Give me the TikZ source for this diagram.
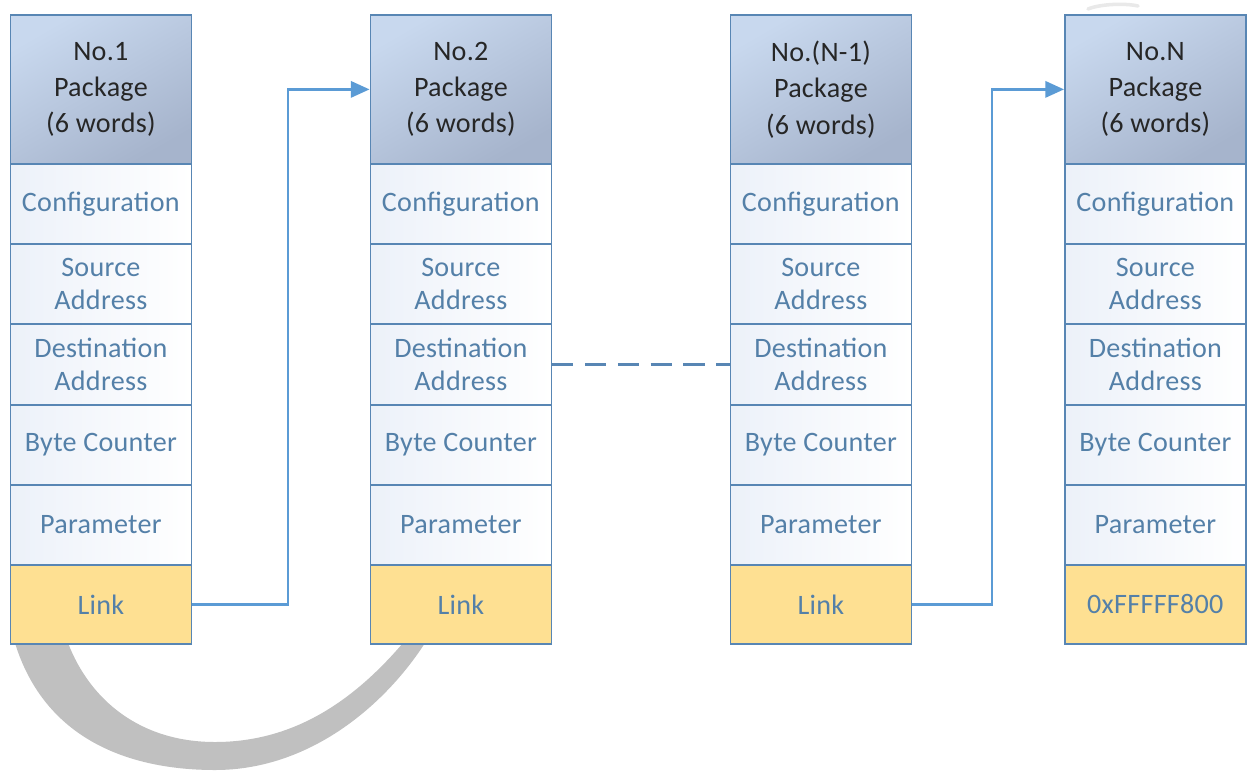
\documentclass[tikz,border=0pt]{standalone}
\usepackage{fontspec}
\setmainfont[LetterSpace=1]{Carlito}
\usetikzlibrary{arrows.meta}
\definecolor{bordc}{RGB}{88,134,180}
\definecolor{celltxt}{RGB}{84,128,168}
\definecolor{hdrtxt}{RGB}{38,38,38}
\definecolor{hdrA}{RGB}{200,216,238}
\definecolor{hdrB}{RGB}{166,180,204}
\definecolor{linkc}{RGB}{254,224,146}
\definecolor{arrc}{RGB}{91,155,213}
\definecolor{cellA}{RGB}{236,241,249}
\definecolor{arcgray}{RGB}{192,192,192}
\newcommand{\pkgcolumn}[4]{%
  \node[hdrbox] (#1h) at (#2,14) {#3};
  \node[cellbox, minimum height=2.4cm] (#1c) at (#2,163) {Configuration};
  \node[cellbox, minimum height=2.4cm] (#1s) at (#2,243) {Source\\Address};
  \node[cellbox, minimum height=2.43cm] (#1d) at (#2,323) {Destination\\Address};
  \node[cellbox, minimum height=2.4cm] (#1b) at (#2,404) {Byte Counter};
  \node[cellbox, minimum height=2.4cm] (#1p) at (#2,484) {Parameter};
  \node[linkbox] (#1l) at (#2,564) {#4};
}
\begin{document}
\begin{tikzpicture}[x=0.03cm,y=-0.03cm,
  basebox/.style={draw=bordc, line width=1.5pt, inner sep=0pt,
    minimum width=5.43cm, anchor=north west, align=center, text=celltxt,
    font=\fontsize{24}{28}\selectfont},
  cellbox/.style={basebox, left color=cellA, right color=white},
  hdrbox/.style={basebox, minimum height=4.47cm, text=hdrtxt,
    top color=hdrA, bottom color=hdrB, shading angle=30,
    font=\fontsize{24}{31}\selectfont},
  linkbox/.style={basebox, minimum height=2.37cm, fill=linkc},
  arrline/.style={draw=arrc, line width=2pt,
    -{Triangle[length=16pt,width=14pt]}},
  dashline/.style={draw=bordc, line width=2pt, dash pattern=on 18pt off 10pt}]
\useasboundingbox (0,0) rectangle (1251,771);
\fill[white] (0,0) rectangle (1251,771);
% grey crescent (background)
\fill[arcgray] (15,643) .. controls (45,740) and (130,770) .. (215,770)
  .. controls (310,770) and (385,705) .. (425,643)
  -- (403,643) .. controls (350,705) and (290,742) .. (215,742)
  .. controls (140,742) and (90,700) .. (68,643) -- cycle;
\draw[arcgray!35, line width=3pt, line cap=round]
  (1088,9) .. controls (1100,4) and (1125,3) .. (1138,6);
% columns
\pkgcolumn{p1}{9.5}{No.1\\Package\\(6 words)}{Link}
\pkgcolumn{p2}{369.5}{No.2\\Package\\(6 words)}{Link}
\pkgcolumn{p3}{729.5}{No.(N-1)\\Package\\(6 words)}{Link}
\pkgcolumn{p4}{1064}{No.N\\Package\\(6 words)}{0xFFFFF800}
% connectors
\coordinate (k1) at (288,0);
\coordinate (k2) at (992,0);
\draw[arrline] (p1l.east) -- (p1l.east -| k1) -- (k1 |- p2h.west) -- (p2h.west);
\draw[arrline] (p3l.east) -- (p3l.east -| k2) -- (k2 |- p4h.west) -- (p4h.west);
\draw[dashline] (p2d.east) -- (p3d.west);
\end{tikzpicture}
\end{document}
